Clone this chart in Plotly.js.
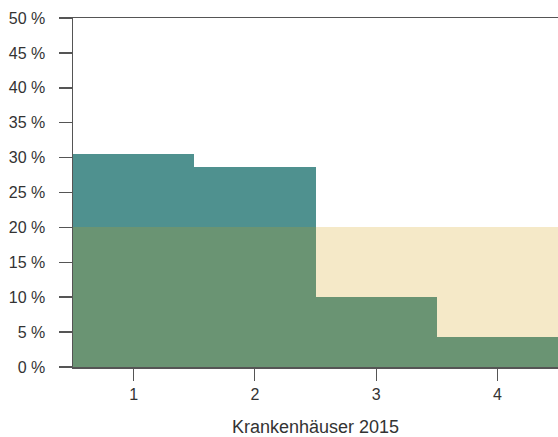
<!DOCTYPE html>
<html>
<head>
<meta charset="utf-8">
<script src="https://cdn.plot.ly/plotly-3.0.1.min.js"></script>
<style>html,body{margin:0;padding:0;background:#fff;}#chart{width:558px;height:437px;}</style>
</head>
<body>
<div id="chart"></div>
<script>
// Data
const categories = [1, 2, 3, 4];
const shares = [30.5, 28.6, 10.0, 4.3];   // Krankenhäuser 2015, in %
const referenceLevel = 20;                  // beige reference band height, in %
const yTickValues = [0, 5, 10, 15, 20, 25, 30, 35, 40, 45, 50];

const below = shares.map(v => Math.min(v, referenceLevel));
const above = shares.map(v => Math.max(v - referenceLevel, 0));
const gapToRef = shares.map(v => Math.max(referenceLevel - v, 0));

const common = {type: 'bar', x: categories, hoverinfo: 'skip', marker: {line: {width: 0}}};
const traces = [
  Object.assign({}, common, {y: below, marker: {color: '#6a9473', line: {width: 0}}}),
  Object.assign({}, common, {y: gapToRef, marker: {color: '#f5e9c8', line: {width: 0}}}),
  Object.assign({}, common, {y: above, marker: {color: '#4f918f', line: {width: 0}}})
];

const layout = {
  width: 558, height: 437,
  margin: {l: 73, r: 0, t: 18, b: 70, pad: 0},
  paper_bgcolor: '#fff', plot_bgcolor: '#fff',
  barmode: 'stack', bargap: 0,
  showlegend: false,
  font: {family: 'Liberation Sans, Arial, sans-serif', size: 16, color: '#333'},
  xaxis: {
    range: [0.5, 4.5], tickvals: categories, ticktext: categories.map(String),
    showgrid: false, zeroline: false,
    showline: true, mirror: true, linecolor: '#555', linewidth: 1.5,
    ticks: 'outside', ticklen: 12, tickcolor: '#555', tickwidth: 1,
    tickfont: {size: 16, color: '#333'},
    title: {text: 'Krankenhäuser 2015', font: {size: 18, color: '#333'}, standoff: 19}
  },
  yaxis: {
    range: [0, 50], tickvals: yTickValues, ticktext: yTickValues.map(v => v + ' %'),
    showgrid: false, zeroline: false,
    showline: true, linecolor: '#555', linewidth: 1.5,
    ticks: 'outside', ticklen: 13, tickcolor: '#555', tickwidth: 1.5,
    ticklabelstandoff: 10,
    tickfont: {size: 16, color: '#333'}
  }
};

Plotly.newPlot('chart', traces, layout, {staticPlot: true, displayModeBar: false});
</script>
</body>
</html>
